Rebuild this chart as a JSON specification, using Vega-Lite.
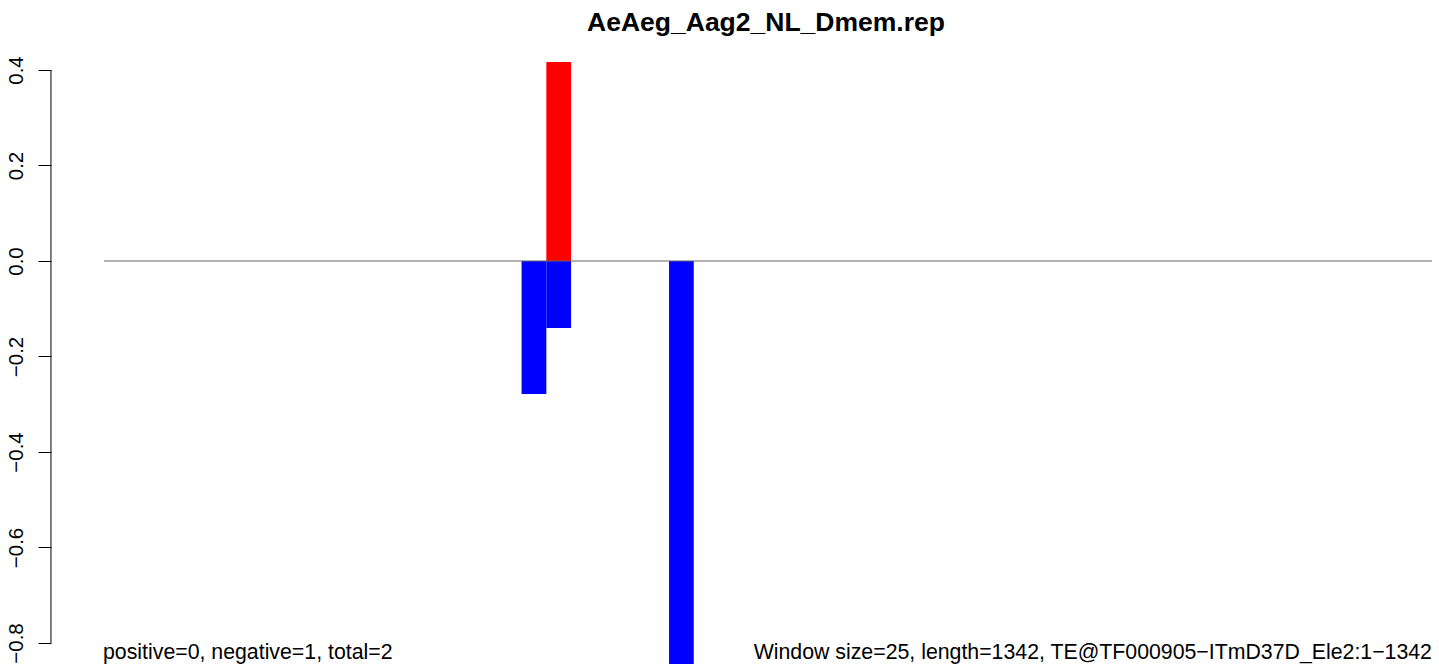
{
  "$schema": "https://vega.github.io/schema/vega-lite/v6.json",
  "width": 1439,
  "height": 664,
  "autosize": "none",
  "padding": 0,
  "background": "white",
  "config": {"view": {"stroke": null}, "font": "Liberation Sans"},
  "datasets": {
    "bars": [
      {"start": 422, "end": 447, "value": -0.2785, "sign": "neg"},
      {"start": 447, "end": 472, "value": -0.1403, "sign": "neg"},
      {"start": 447, "end": 472, "value": 0.4168, "sign": "pos"},
      {"start": 571, "end": 596, "value": -0.85, "sign": "neg"}
    ],
    "zero": [{"from": 0, "to": 1342, "y": 0}],
    "labels": [
      {"x": 669, "y": 0.4815, "text": "AeAeg_Aag2_NL_Dmem.rep", "kind": "title"},
      {"x": -1, "y": -0.8345, "text": "positive=0, negative=1, total=2", "kind": "left"},
      {"x": 1342, "y": -0.8345, "text": "Window size=25, length=1342, TE@TF000905−ITmD37D_Ele2:1−1342", "kind": "right"}
    ]
  },
  "layer": [
    {
      "data": {"name": "bars"},
      "mark": {"type": "rect", "clip": true},
      "encoding": {
        "x": {"field": "start", "type": "quantitative", "scale": {"domain": [-105.1, 1349.1], "nice": false, "zero": false}, "axis": null},
        "x2": {"field": "end"},
        "y": {"field": "value", "type": "quantitative", "scale": {"domain": [-0.844, 0.5466], "nice": false, "zero": false},
          "axis": {"orient": "left", "offset": -51, "domain": false, "grid": false, "values": [-0.8, -0.6, -0.4, -0.2, 0, 0.2, 0.4], "format": ".1f", "tickColor": "black", "tickSize": 13, "tickWidth": 1, "labelAngle": 270, "labelAlign": "center", "labelBaseline": "alphabetic", "labelPadding": 16, "labelFont": "Liberation Sans", "labelFontSize": 20.5, "labelColor": "black", "title": null, "labelOverlap": false}},
        "y2": {"datum": 0},
        "color": {"field": "sign", "type": "nominal", "scale": {"domain": ["pos", "neg"], "range": ["#ff0000", "#0000ff"]}, "legend": null}
      }
    },
    {
      "data": {"name": "zero"},
      "mark": {"type": "rule", "color": "#666666", "strokeWidth": 1},
      "encoding": {
        "x": {"field": "from", "type": "quantitative"},
        "x2": {"field": "to"},
        "y": {"field": "y", "type": "quantitative"}
      }
    },
    {
      "data": {"values": [{"x": -53.6, "lo": -0.8, "hi": 0.4}]},
      "mark": {"type": "rule", "color": "black", "strokeWidth": 1},
      "encoding": {
        "x": {"field": "x", "type": "quantitative"},
        "y": {"field": "lo", "type": "quantitative"},
        "y2": {"field": "hi"}
      }
    },
    {
      "data": {"name": "labels"},
      "transform": [{"filter": "datum.kind == 'title'"}],
      "mark": {"type": "text", "align": "center", "baseline": "alphabetic", "fontSize": 26.5, "fontWeight": "bold", "color": "black"},
      "encoding": {
        "x": {"field": "x", "type": "quantitative"},
        "y": {"field": "y", "type": "quantitative"},
        "text": {"field": "text"}
      }
    },
    {
      "data": {"name": "labels"},
      "transform": [{"filter": "datum.kind == 'left'"}],
      "mark": {"type": "text", "align": "left", "baseline": "alphabetic", "fontSize": 21.3, "color": "black"},
      "encoding": {
        "x": {"field": "x", "type": "quantitative"},
        "y": {"field": "y", "type": "quantitative"},
        "text": {"field": "text"}
      }
    },
    {
      "data": {"name": "labels"},
      "transform": [{"filter": "datum.kind == 'right'"}],
      "mark": {"type": "text", "align": "right", "baseline": "alphabetic", "fontSize": 21.3, "color": "black"},
      "encoding": {
        "x": {"field": "x", "type": "quantitative"},
        "y": {"field": "y", "type": "quantitative"},
        "text": {"field": "text"}
      }
    }
  ]
}
